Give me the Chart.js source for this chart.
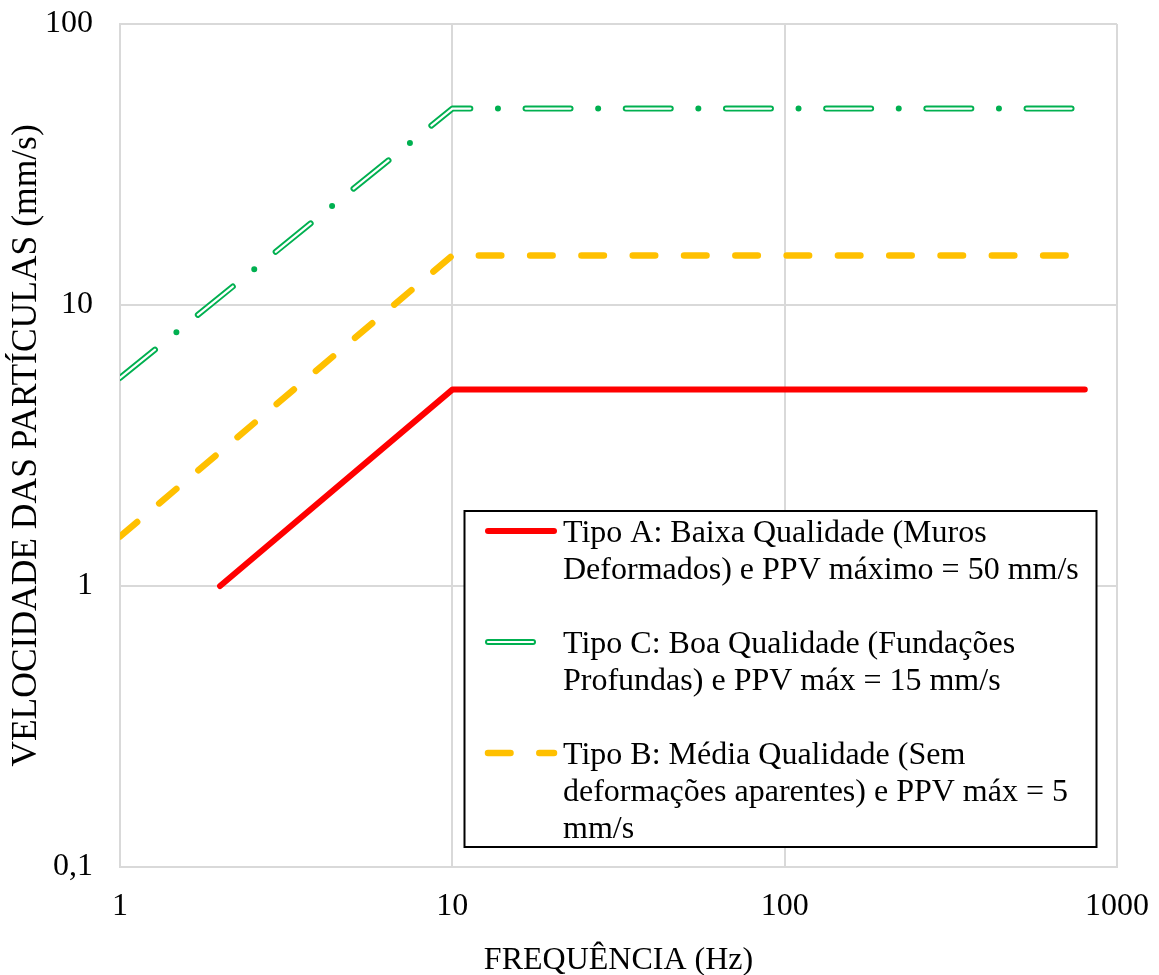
<!DOCTYPE html>
<html lang="pt">
<head>
<meta charset="utf-8">
<title>Velocidade das partículas x frequência</title>
<script src="https://cdn.jsdelivr.net/npm/chart.js@4.4.1/dist/chart.umd.min.js"></script>
<style>
  html, body { margin: 0; padding: 0; background: #ffffff; }
  #wrap { width: 1159px; height: 975px; }
</style>
</head>
<body>
<div id="wrap"><canvas id="chart" width="1159" height="975"></canvas></div>
<script>
// Limit curves: frequency (Hz) vs peak particle velocity (mm/s)
const freqA = [2, 10, 800];
const ppvA  = [1, 5, 5];
const freqC = [1, 10, 800];
const ppvC  = [5.5, 50, 50];
const freqB = [1, 10, 800];
const ppvB  = [1.5, 15, 15];

const labelA = ['Tipo A: Baixa Qualidade (Muros', 'Deformados) e PPV máximo = 50 mm/s'];
const labelC = ['Tipo C: Boa Qualidade (Fundações', 'Profundas) e PPV máx = 15 mm/s'];
const labelB = ['Tipo B: Média Qualidade (Sem', 'deformações aparentes) e PPV máx = 5', 'mm/s'];

const xTickValues = [1, 10, 100, 1000];
const xTickLabels = ['1', '10', '100', '1000'];
const yTickValues = [0.1, 1, 10, 100];
const yTickLabels = ['0,1', '1', '10', '100'];

const xTitle = 'FREQUÊNCIA (Hz)';
const yTitle = 'VELOCIDADE DAS PARTÍCULAS (mm/s)';

const FONT = "'Liberation Serif', 'Times New Roman', serif";
const GRID = '#d9d9d9';

const pts = (xs, ys) => xs.map((x, i) => ({ x: x, y: ys[i] }));

// Green "double" stroke: a wide green dash-dot with a thin white core on the dashes only
const dashC = [45, 27.6, 0, 27.6];
const dashCcore = [45, 55.2];
const dashB = [22.5, 28.8];

const datasets = [
  { label: labelA, data: pts(freqA, ppvA), borderColor: '#ff0000', borderWidth: 6,
    borderCapStyle: 'round', borderJoinStyle: 'round', order: 1 },
  { label: labelC, data: pts(freqC, ppvC), borderColor: '#ffffff', borderWidth: 2.2,
    borderDash: dashCcore, borderCapStyle: 'round', borderJoinStyle: 'round', order: 0 },
  { label: labelC, data: pts(freqC, ppvC), borderColor: '#00b050', borderWidth: 6,
    borderDash: dashC, borderCapStyle: 'round', borderJoinStyle: 'round', order: 2 },
  { label: labelB, data: pts(freqB, ppvB), borderColor: '#ffc000', borderWidth: 6.5,
    borderDash: dashB, borderCapStyle: 'round', borderJoinStyle: 'round', order: 3 }
];
datasets.forEach(d => { d.showLine = true; d.pointRadius = 0; d.pointHoverRadius = 0; d.fill = false; d.clip = 0; d.tension = 0; });

// Legend entries: [main dataset index, overlay dataset index or null]
const legendEntries = [[0, null], [2, 1], [3, null]];

const boxedLegend = {
  id: 'boxedLegend',
  afterDraw(chart) {
    const ctx = chart.ctx;
    const box = { x: 464.5, y: 511, w: 632, h: 336 };
    ctx.save();
    ctx.fillStyle = '#ffffff';
    ctx.fillRect(box.x, box.y, box.w, box.h);
    ctx.lineWidth = 2;
    ctx.strokeStyle = '#000000';
    ctx.strokeRect(box.x, box.y, box.w, box.h);

    const lineGap = 37;
    const sampleX0 = 488, sampleX1 = 554, textX = 563;
    let baseline = 542;
    legendEntries.forEach(([mainIdx, coreIdx]) => {
      const ds = chart.data.datasets[mainIdx];
      const sy = baseline - 11;
      [ds, coreIdx !== null ? chart.data.datasets[coreIdx] : null].forEach(s => {
        if (!s) return;
        ctx.beginPath();
        ctx.setLineDash(s.borderDash || []);
        ctx.lineDashOffset = 0;
        ctx.lineCap = 'round';
        ctx.lineWidth = s.borderWidth;
        ctx.strokeStyle = s.borderColor;
        ctx.moveTo(sampleX0, sy);
        ctx.lineTo(sampleX1, sy);
        ctx.stroke();
      });
      ctx.setLineDash([]);
      ctx.fillStyle = '#000000';
      ctx.font = '32px ' + FONT;
      ctx.textAlign = 'left';
      ctx.textBaseline = 'alphabetic';
      ds.label.forEach((line, i) => ctx.fillText(line, textX, baseline + i * lineGap));
      baseline += (ds.label.length + 1) * lineGap;
    });
    ctx.restore();
  }
};

// Fixed axis band sizes; tick-label overflow is absorbed by the layout padding
const fixBand = (prop, size) => s => {
  s[prop] = size;
  s.paddingTop = 0; s.paddingBottom = 0; s.paddingLeft = 0; s.paddingRight = 0;
};

new Chart(document.getElementById('chart'), {
  type: 'scatter',
  data: { datasets: datasets },
  options: {
    responsive: false,
    animation: false,
    devicePixelRatio: 1,
    layout: { padding: { top: 24, right: 42, left: 0, bottom: 0 } },
    plugins: { legend: { display: false }, tooltip: { enabled: false } },
    scales: {
      x: {
        type: 'logarithmic',
        min: 1, max: 1000,
        afterBuildTicks: s => { s.ticks = xTickValues.map(v => ({ value: v, major: true })); },
        afterFit: fixBand('height', 108),
        grid: { color: GRID, lineWidth: 2, drawTicks: false },
        border: { color: GRID, width: 2 },
        ticks: {
          color: '#000000', padding: 20, maxRotation: 0, autoSkip: false,
          font: { family: FONT, size: 32 },
          callback: v => xTickLabels[xTickValues.indexOf(v)]
        },
        title: {
          display: true, text: xTitle, color: '#000000',
          font: { family: FONT, size: 32, lineHeight: 1 }, padding: { top: 0, bottom: -2 }
        }
      },
      y: {
        type: 'logarithmic',
        min: 0.1, max: 100,
        afterBuildTicks: s => { s.ticks = yTickValues.map(v => ({ value: v, major: true })); },
        afterFit: fixBand('width', 120),
        grid: { color: GRID, lineWidth: 2, drawTicks: false },
        border: { color: GRID, width: 2 },
        ticks: {
          color: '#000000', padding: 27, autoSkip: false,
          font: { family: FONT, size: 32 },
          callback: v => yTickLabels[yTickValues.indexOf(v)]
        },
        title: {
          display: true, text: yTitle, color: '#000000',
          font: { family: FONT, size: 35.5, lineHeight: 1 }, padding: { top: 9, bottom: 0 }
        }
      }
    }
  },
  plugins: [boxedLegend]
});
</script>
</body>
</html>
